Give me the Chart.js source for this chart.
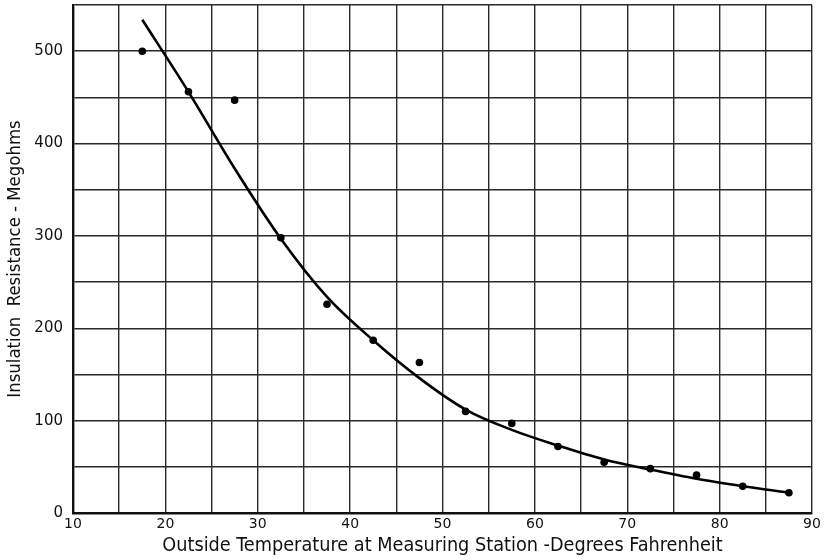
<!DOCTYPE html>
<html>
<head>
<meta charset="utf-8">
<script src="https://cdn.jsdelivr.net/npm/chart.js@4/dist/chart.umd.min.js"></script>
<style>
  html, body { margin: 0; padding: 0; background: #ffffff; }
  canvas { display: block; }
</style>
</head>
<body>
<canvas id="c" width="825" height="560"></canvas>
<script>
// Measured points
const tempF = [17.5, 22.5, 27.5, 32.5, 37.5, 42.5, 47.5, 52.5, 57.5, 62.5, 67.5, 72.5, 77.5, 82.5, 87.5];
const resistance = [500, 456, 447, 298, 226, 187, 163, 110, 97, 72, 55, 48, 41, 29, 22];

// Smooth fitted curve
const curveTemp = [17.5, 22.5, 27.5, 32.5, 37.5, 42.5, 47.5, 52.5, 57.5, 62.5, 67.5, 72.5, 77.5, 82.5, 87.5];
const curveRes = [534, 456, 373, 297, 234, 187, 146, 112, 90, 73, 58, 47, 37, 29, 22];

const xTitle = 'Outside Temperature at Measuring Station -Degrees Fahrenheit';
const yTitle = 'Insulation  Resistance - Megohms';

const titleFont = "'DejaVu Sans Condensed', 'Liberation Sans Narrow', 'DejaVu Sans', sans-serif";
const tickFont = "'DejaVu Sans', sans-serif";
const gridColor = '#2a2a2a';

new Chart(document.getElementById('c'), {
  type: 'scatter',
  data: {
    datasets: [
      {
        label: 'Curve',
        data: curveTemp.map((t, i) => ({ x: t, y: curveRes[i] })),
        showLine: true,
        borderColor: '#000000',
        borderWidth: 2.6,
        pointRadius: 0,
        cubicInterpolationMode: 'monotone',
        fill: false,
        order: 2
      },
      {
        label: 'Measured',
        data: tempF.map((t, i) => ({ x: t, y: resistance[i] })),
        showLine: false,
        backgroundColor: '#000000',
        borderColor: '#000000',
        pointRadius: 3.8,
        pointBorderWidth: 0,
        order: 1
      }
    ]
  },
  options: {
    responsive: false,
    animation: false,
    devicePixelRatio: 1,
    layout: { padding: { left: 4, right: 13, top: 5, bottom: 0 } },
    plugins: {
      legend: { display: false },
      tooltip: { enabled: false }
    },
    scales: {
      x: {
        type: 'linear',
        min: 10, max: 90,
        afterFit: (s) => { s.height = 47; },
        ticks: {
          stepSize: 5,
          autoSkip: false,
          maxRotation: 0,
          padding: 3,
          color: '#111',
          font: { family: tickFont, size: 14 },
          callback: (v) => (v % 10 === 0 ? String(v) : '')
        },
        grid: { color: gridColor, lineWidth: 1.4, drawTicks: false, tickLength: 0 },
        border: { color: '#111', width: 2.4 },
        title: {
          display: true,
          text: xTitle,
          color: '#111',
          font: { family: titleFont, size: 19.7 },
          padding: { top: 0, bottom: 2 }
        }
      },
      y: {
        type: 'linear',
        min: 0, max: 550,
        afterFit: (s) => { s.width = 69; s.paddingTop = 0; s.paddingBottom = 0; },
        ticks: {
          stepSize: 50,
          autoSkip: false,
          padding: 10,
          color: '#111',
          font: { family: tickFont, size: 15 },
          callback: (v) => (v % 100 === 0 ? String(v) : '')
        },
        grid: { color: gridColor, lineWidth: 1.4, drawTicks: false, tickLength: 0 },
        border: { color: '#111', width: 2.4 },
        title: {
          display: true,
          text: yTitle,
          color: '#111',
          font: { family: titleFont, size: 18.4 },
          padding: { top: 0, bottom: 0 }
        }
      }
    }
  }
});
</script>
</body>
</html>
